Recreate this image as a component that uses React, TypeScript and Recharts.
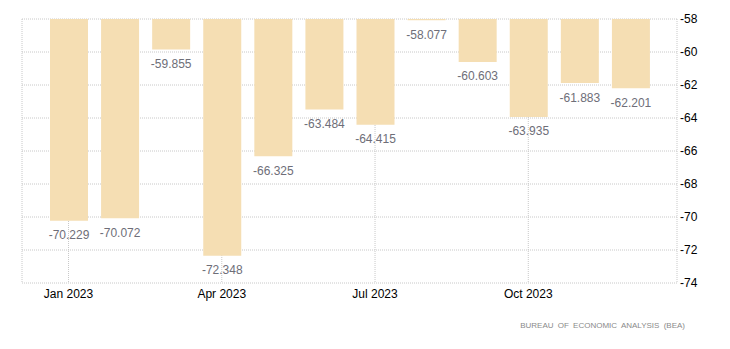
import { BarChart, Bar, XAxis, YAxis, CartesianGrid, LabelList } from "recharts";

const months = [
  "Jan 2023", "Feb 2023", "Mar 2023", "Apr 2023", "May 2023", "Jun 2023",
  "Jul 2023", "Aug 2023", "Sep 2023", "Oct 2023", "Nov 2023", "Dec 2023",
];
const balance = [
  -70.229, -70.072, -59.855, -72.348, -66.325, -63.484,
  -64.415, -58.077, -60.603, -63.935, -61.883, -62.201,
];
const yTicks = [-58, -60, -62, -64, -66, -68, -70, -72, -74];

const data = months.map((m, i) => ({ month: m, value: balance[i] }));

const font = "'Liberation Sans', Arial, sans-serif";

export default function App() {
  return (
    <div style={{ position: "absolute", left: 0, top: 0, width: 730, height: 349, background: "#fff" }}>
      <BarChart
        width={730}
        height={349}
        data={data}
        margin={{ top: 19, right: 13, bottom: 36, left: 22 }}
      >
        <CartesianGrid stroke="#c8c8c8" strokeDasharray="1 1" />
        <XAxis
          dataKey="month"
          interval={2}
          padding={{ left: 21, right: 21 }}
          axisLine={false}
          tickLine={false}
          tickSize={0}
          tickMargin={6}
          height={30}
          tick={{ fontSize: 12, fill: "#000", fontFamily: font }}
        />
        <YAxis
          orientation="right"
          domain={[-74, -58]}
          ticks={yTicks}
          axisLine={false}
          tickLine={false}
          tickSize={0}
          tickMargin={3}
          width={40}
          tick={{ fontSize: 12, fill: "#000", fontFamily: font, textAnchor: "start" }}
        />
        <Bar dataKey="value" fill="#F5DEB3" barSize={38} isAnimationActive={false}>
          <LabelList
            dataKey="value"
            position="top"
            offset={10}
            style={{ fontSize: 12, fill: "#6e6e78", fontFamily: font }}
            formatter={(v: number) => v.toFixed(3)}
          />
        </Bar>
      </BarChart>
      <div
        style={{
          position: "absolute",
          right: 45,
          top: 321,
          fontSize: 8,
          color: "#8a8a8a",
          fontFamily: font,
          wordSpacing: 2,
          whiteSpace: "nowrap",
        }}
      >
        BUREAU OF ECONOMIC ANALYSIS (BEA)
      </div>
    </div>
  );
}
